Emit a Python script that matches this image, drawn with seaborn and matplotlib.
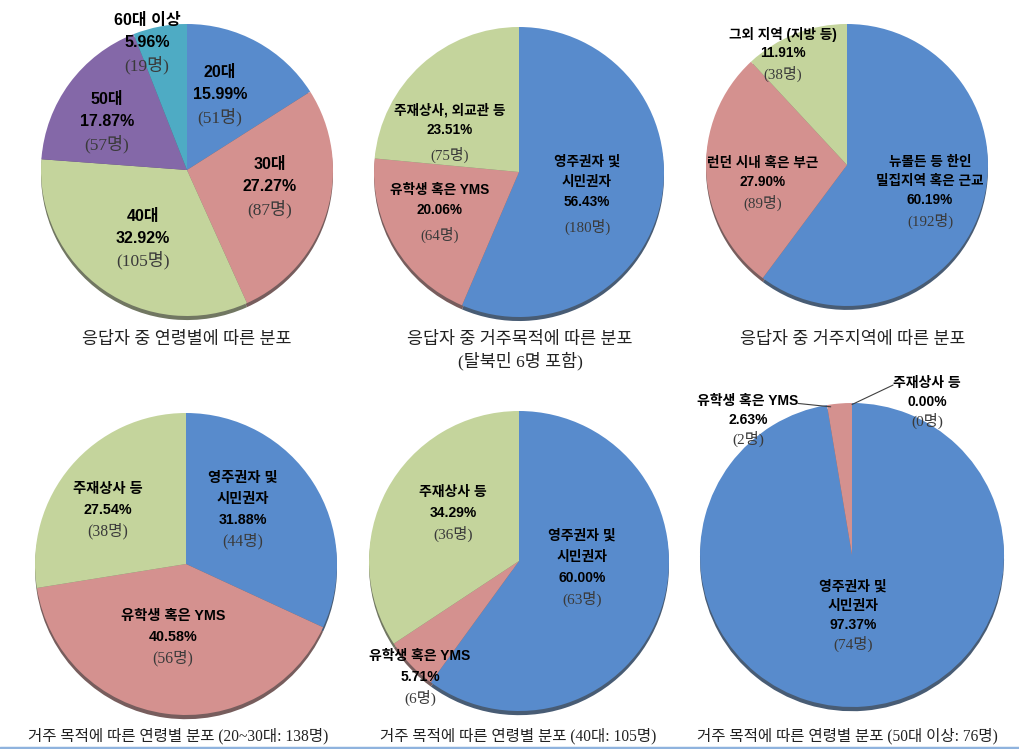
import matplotlib
matplotlib.use('Agg')
import matplotlib.pyplot as plt
import numpy as np
import seaborn as sns

# survey data (counts)
age_labels = ['20대', '30대', '40대', '50대', '60대 이상']
age_counts = [51, 87, 105, 57, 19]

purpose_labels = ['영주권자 및\n시민권자', '유학생 혹은 YMS', '주재상사, 외교관 등']
purpose_counts = [180, 64, 75]

region_labels = ['뉴몰든 등 한인\n밀집지역 혹은 근교', '런던 시내 혹은 부근', '그외 지역 (지방 등)']
region_counts = [192, 89, 38]

group_labels = ['영주권자 및\n시민권자', '유학생 혹은 YMS', '주재상사 등']
counts_2030 = [44, 56, 38]
counts_40 = [63, 6, 36]
counts_50plus = [74, 2, 0]

titles = [
    '응답자 중 연령별에 따른 분포',
    '응답자 중 거주목적에 따른 분포\n(탈북민 6명 포함)',
    '응답자 중 거주지역에 따른 분포',
    '거주 목적에 따른 연령별 분포 (20~30대: 138명)',
    '거주 목적에 따른 연령별 분포 (40대: 105명)',
    '거주 목적에 따른 연령별 분포 (50대 이상: 76명)',
]

BLUE, RED, GREEN = '#588BCC', '#D4918F', '#C4D49C'
PURPLE, TEAL = '#8468A8', '#4EABC4'

sns.set_theme(style='white')
plt.rcParams['font.family'] = ['Liberation Sans', 'Noto Sans CJK KR', 'DejaVu Sans']

SANS = ['Liberation Sans', 'Noto Sans CJK KR']
SERIF = ['Liberation Serif', 'Noto Sans CJK KR']

W, H = 1019, 749
fig = plt.figure(figsize=(W / 100, H / 100), dpi=100)


def draw_pie(labels, counts, colors, center, radius, box, label_pos, fs, step,
             count_step=None):
    x0, y0, x1, y1 = box
    cx, cy = center
    ax = fig.add_axes([x0 / W, 1 - y1 / H, (x1 - x0) / W, (y1 - y0) / H])
    ax.pie(counts, colors=colors, startangle=90, counterclock=False,
           wedgeprops=dict(linewidth=0),
           shadow=dict(ox=0.0, oy=-0.02, shade=0.55, alpha=0.85))
    ax.set_aspect('auto')
    ax.set_xlim((x0 - cx) / radius, (x1 - cx) / radius)
    ax.set_ylim((cy - y1) / radius, (cy - y0) / radius)
    ax.axis('off')

    total = sum(counts)
    dy = step / radius
    dyc = (count_step or step) / radius
    for lab, c, (px, py) in zip(labels, counts, label_pos):
        lines = lab.split('\n') + [f'{c / total * 100:.2f}%']
        for k, line in enumerate(reversed(lines)):
            ax.text(px, py + k * dy, line, ha='center', va='center',
                    fontsize=fs, fontweight='bold', family=SANS, color='black')
        ax.text(px, py - dyc, f'({c}명)', ha='center', va='center',
                fontsize=fs + 1, family=SERIF, color='#3a3a3a')
    return ax


# top row
draw_pie(age_labels, age_counts, [BLUE, RED, GREEN, PURPLE, TEAL],
         center=(187, 170), radius=146, box=(0, 33, 340, 330),
         label_pos=[(0.226, 0.514), (0.568, -0.116), (-0.30, -0.466),
                    (-0.548, 0.329), (-0.274, 0.87)],
         fs=11.5, step=22)
draw_pie(purpose_labels, purpose_counts, [BLUE, RED, GREEN],
         center=(519, 172), radius=145, box=(345, 0, 690, 330),
         label_pos=[(0.469, -0.207), (-0.545, -0.262), (-0.476, 0.29)],
         fs=9.8, step=20, count_step=25)
draw_pie(region_labels, region_counts, [BLUE, RED, GREEN],
         center=(847, 165), radius=141, box=(690, 0, 1019, 330),
         label_pos=[(0.589, -0.248), (-0.596, -0.121), (-0.454, 0.794)],
         fs=9.8, step=19, count_step=21)

# bottom row
draw_pie(group_labels, counts_2030, [BLUE, RED, GREEN],
         center=(186, 564), radius=151, box=(0, 370, 336, 730),
         label_pos=[(0.377, 0.291), (-0.086, -0.483), (-0.517, 0.358)],
         fs=10.3, step=21)
draw_pie(group_labels, counts_40, [BLUE, RED, GREEN],
         center=(519, 561), radius=150, box=(345, 370, 690, 730),
         label_pos=[(0.42, -0.113), (-0.66, -0.773), (-0.44, 0.32)],
         fs=10, step=21)
ax6 = draw_pie(group_labels, counts_50plus, [BLUE, RED, GREEN],
               center=(852, 555), radius=152, box=(690, 370, 1019, 730),
               label_pos=[(0.007, -0.46), (-0.684, 0.888), (0.493, 1.007)],
               fs=10, step=19)
# leader lines for the two thin slices
ax6.plot([-0.355, -0.14], [0.997, 0.975], color='#404040', lw=0.8, clip_on=False)
ax6.plot([0.27, 0.0], [1.118, 0.99], color='#404040', lw=0.8, clip_on=False)

# captions
caption_xy = [(187, 340), (520, 351), (853, 340), (178, 736), (518, 736), (847, 736)]
for (tx, ty), t in zip(caption_xy, titles):
    size = 12.5 if ty < 400 else 11.2
    fig.text(tx / W, 1 - ty / H, t, ha='center', va='center', fontsize=size,
             family=SERIF, color='#222222', linespacing=1.25)

fig.add_artist(plt.Line2D([0, 1], [1 - 747.5 / H] * 2, transform=fig.transFigure,
                          color='#8FB3DE', lw=2.5))

fig.savefig('out.png', dpi=100)
